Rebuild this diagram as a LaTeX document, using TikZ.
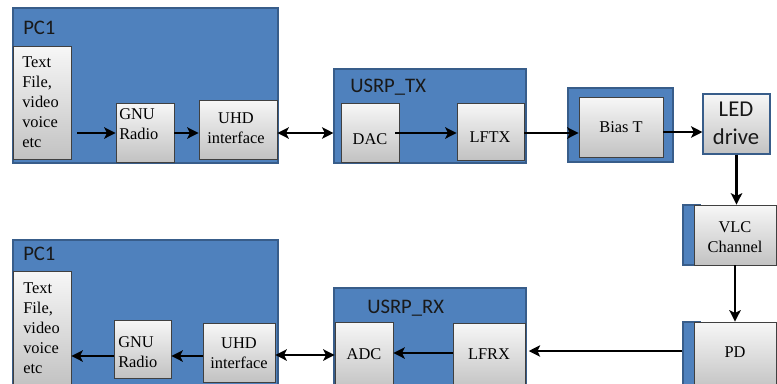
\documentclass[tikz,border=0pt]{standalone}
\usepackage{fontspec}
\setmainfont{Liberation Serif}
\newfontfamily\calib{Carlito}
\usetikzlibrary{arrows.meta,fit}
\definecolor{office}{HTML}{4F81BD}
\definecolor{officedark}{HTML}{385D8A}
\definecolor{gtop}{HTML}{F7F7F7}
\definecolor{gbot}{HTML}{C2C2C2}
\begin{document}
\begin{tikzpicture}[x=0.75pt,y=-0.75pt,
 bluebox/.style={fill=office, draw=officedark, line width=0.8pt, inner sep=0pt},
 graybox/.style={top color=gtop, bottom color=gbot, draw=black!75, line width=0.6pt, inner sep=0pt},
 serif/.style={font=\fontsize{12.3pt}{15pt}\selectfont, inner sep=0pt, align=left, text=black},
 sans/.style={font=\calib\fontsize{15.5pt}{18pt}\selectfont, inner sep=0pt, text=black!90},
 arr/.style={line width=1.8pt, -{Stealth[length=8.5pt,width=8.5pt,inset=2pt]}},
 darr/.style={line width=1.8pt, {Stealth[length=8.5pt,width=8.5pt,inset=2pt]}-{Stealth[length=8.5pt,width=8.5pt,inset=2pt]}}]
\useasboundingbox (0,0) rectangle (777,383);
\clip (0,0) rectangle (777,383);
% row coordinates
\coordinate (r1) at (0,133);
\coordinate (r2) at (0,132);
\coordinate (r3) at (0,351);
\coordinate (r4) at (0,353);
\coordinate (r5) at (0,355);
\coordinate (r6) at (0,356);
% ---------- top PC1
\node[bluebox, fit={(13,8) (278,163)}] (pc1t) {};
\node[sans, anchor=west] at (23,28) {PC1};
\node[graybox, fit={(13,46) (71,159)}] (txtt) {};
\node[serif, anchor=west] at (22,102) {Text\\File,\\video\\voice\\etc};
\node[graybox, fit={(116,103) (174,162)}] (gnut) {};
\node[serif, anchor=west] at (119,124) {GNU\\Radio};
\node[graybox, fit={(199,100) (277,159)}] (uhdt) {};
\node[serif, align=center] at (236,128) {UHD\\interface};
% ---------- USRP_TX
\node[bluebox, fit={(334,69) (526,163)}] (usrpt) {};
\node[sans, anchor=west] at (350,87) {USRP\_TX};
\node[graybox, fit={(341,103) (399,162)}] (dac) {};
\node[serif] at (370,139) {DAC};
\node[graybox, fit={(457,103) (524,160)}] (lftx) {};
\node[serif] at (490,137) {LFTX};
% ---------- Bias T
\node[bluebox, fit={(568,88) (673,162)}] (biasb) {};
\node[graybox, fit={(579,97) (663,157)}] (bias) {};
\node[serif] at (621,127) {Bias T};
% ---------- LED drive
\node[graybox, draw=officedark, line width=0.8pt, fit={(703,94) (770,154)}] (led) {};
\node[sans, font=\calib\fontsize{17pt}{21pt}\selectfont, align=center] at (736,123) {LED\\drive};
% ---------- VLC Channel
\node[bluebox, fit={(683,205) (700,265)}] (vlcb) {};
\node[graybox, fit={(694,205) (776,265)}] (vlc) {};
\node[serif, align=center] at (735,237) {VLC\\Channel};
% ---------- PD
\node[bluebox, fit={(683,322) (700,392)}] (pdb) {};
\node[graybox, fit={(694,322) (776,390)}] (pd) {};
\node[serif] at (735,352) {PD};
% ---------- USRP_RX
\node[bluebox, fit={(334,288) (526,395)}] (usrpr) {};
\node[sans, anchor=west] at (367,308) {USRP\_RX};
\node[graybox, fit={(335,322) (393,390)}] (adc) {};
\node[serif] at (364,354) {ADC};
\node[graybox, fit={(453,323) (525,390)}] (lfrx) {};
\node[serif] at (489,354) {LFRX};
% ---------- bottom PC1
\node[bluebox, fit={(13,240) (278,395)}] (pc1b) {};
\node[sans, anchor=west] at (23,254) {PC1};
\node[graybox, fit={(13,271) (71,386)}] (txtb) {};
\node[serif, anchor=west] at (23,328) {Text\\File,\\video\\voice\\etc};
\node[graybox, fit={(114,320) (171,378)}] (gnub) {};
\node[serif, anchor=west] at (118,352) {GNU\\Radio};
\node[graybox, fit={(203,323) (275,382)}] (uhdb) {};
\node[serif, align=center] at (239,353) {UHD\\interface};
% ---------- connectors
\draw[arr, shorten <=4.5pt] (txtt.east |- r1) -- (gnut.west |- r1);
\draw[arr] (gnut.east |- r1) -- (uhdt.west |- r1);
\draw[darr] (uhdt.east |- r1) -- (usrpt.west |- r1);
\draw[arr, shorten <=-3pt] (dac.east |- r1) -- (lftx.west |- r1);
\draw[arr] (lftx.east |- r1) -- (bias.west |- r1);
\draw[arr] (bias.east |- r2) -- (led.west |- r2);
\draw[arr] (led.south) -- (led.south |- vlc.north);
\draw[arr] (vlc.south) -- (vlc.south |- pd.north);
\draw[arr, shorten >=2.5pt] (pdb.west |- r3) -- (lfrx.east |- r3);
\draw[arr] (lfrx.west |- r4) -- (adc.east |- r4);
\draw[darr] (uhdb.east |- r5) -- (adc.west |- r5);
\draw[arr] (uhdb.west |- r6) -- (gnub.east |- r6);
\draw[arr] (gnub.west |- r6) -- (txtb.east |- r6);
\end{tikzpicture}
\end{document}
